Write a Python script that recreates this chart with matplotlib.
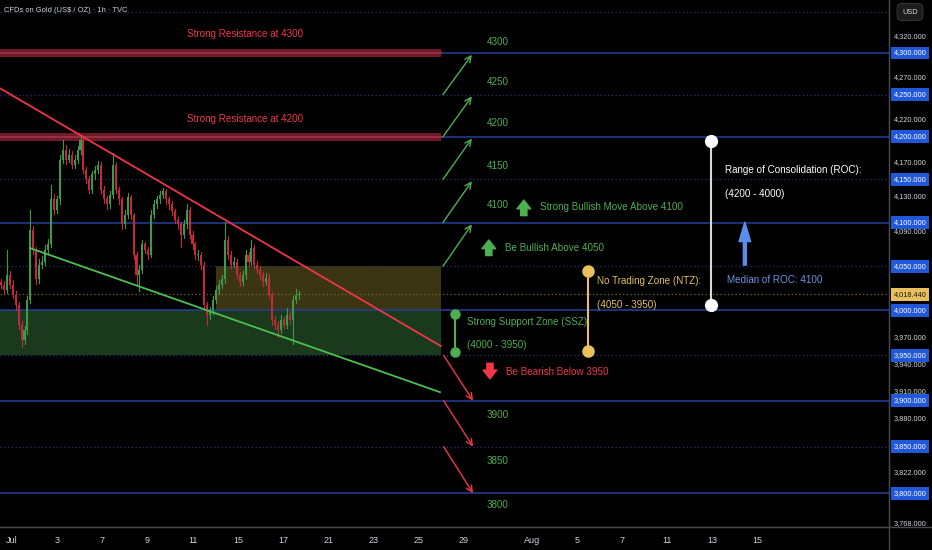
import matplotlib
matplotlib.use("Agg")
import matplotlib.pyplot as plt
import matplotlib.transforms as mtransforms
from matplotlib.lines import Line2D
from matplotlib.patches import Rectangle
from matplotlib.ticker import NullLocator

plt.rcParams['font.family'] = ['Liberation Sans', 'DejaVu Sans']

# 3h candles, Jul 1 - Jul 18
closes = [4029, 4023, 4040, 4029, 4018, 4006, 3984, 3967, 3978, 4012,
          4092, 4069, 4035, 4052, 4055, 4069, 4075, 4127, 4115, 4127,
          4173, 4185, 4173, 4179, 4167, 4173, 4185, 4196, 4161, 4150,
          4138, 4156, 4161, 4167, 4138, 4127, 4121, 4132, 4167, 4138,
          4127, 4098, 4109, 4129, 4109, 4063, 4040, 4046, 4075, 4069,
          4063, 4109, 4121, 4127, 4132, 4136, 4127, 4121, 4113, 4103,
          4098, 4086, 4098, 4115, 4086, 4075, 4063, 4063, 4052, 4006,
          3995, 4000, 4012, 4023, 4029, 4035, 4080, 4063, 4052, 4055,
          4040, 4032, 4040, 4063, 4055, 4071, 4052, 4046, 4040, 4032,
          4037, 4018, 3989, 3984, 3978, 3989, 3984, 3995, 3989, 4012,
          4018, 4018.44]
highs = [4036, 4033, 4069, 4045, 4034, 4022, 4010, 3988, 3983, 4016,
         4115, 4096, 4072, 4058, 4062, 4074, 4081, 4144, 4133, 4131,
         4178, 4196, 4190, 4186, 4183, 4178, 4189, 4202, 4199, 4165,
         4154, 4160, 4166, 4172, 4170, 4142, 4131, 4137, 4181, 4170,
         4141, 4130, 4114, 4134, 4132, 4111, 4066, 4052, 4080, 4078,
         4072, 4114, 4126, 4131, 4137, 4140, 4139, 4130, 4125, 4116,
         4107, 4101, 4103, 4121, 4118, 4090, 4078, 4068, 4066, 4055,
         4010, 4004, 4016, 4028, 4034, 4040, 4101, 4084, 4067, 4060,
         4058, 4044, 4045, 4068, 4066, 4080, 4074, 4056, 4050, 4044,
         4042, 4041, 4021, 3994, 3988, 3995, 3993, 4003, 3999, 4016,
         4024, 4022]
lows = [4025, 4019, 4020, 4025, 4014, 4001, 3979, 3959, 3963, 3974,
        4008, 4064, 4030, 4031, 4048, 4051, 4064, 4072, 4110, 4111,
        4122, 4169, 4168, 4170, 4163, 4163, 4169, 4180, 4157, 4146,
        4134, 4134, 4151, 4157, 4134, 4123, 4116, 4117, 4128, 4134,
        4122, 4093, 4094, 4105, 4104, 4058, 4030, 4022, 4042, 4065,
        4058, 4060, 4105, 4117, 4123, 4128, 4122, 4116, 4109, 4099,
        4093, 4072, 4082, 4094, 4082, 4070, 4058, 4057, 4047, 4001,
        3984, 3990, 3996, 4008, 4019, 4025, 4031, 4058, 4048, 4049,
        4036, 4028, 4029, 4036, 4050, 4051, 4048, 4042, 4036, 4028,
        4029, 4014, 3984, 3979, 3970, 3975, 3980, 3980, 3985, 3962,
        4008, 4013]
first_open = 4032
opens = [first_open] + closes[:-1]

day_ticks = [0, 2, 4, 6, 8, 10, 12, 14, 16, 18, 20, 23, 25, 27, 29, 31, 33]
day_labels = ['Jul', '3', '7', '9', '11', '15', '17', '21', '23', '25', '29',
              'Aug', '5', '7', '11', '13', '15']

solid_levels = [4300, 4200, 4100, 4000, 3900, 3800]
dotted_levels = [4350, 4250, 4150, 4050, 3950, 3850]
resistance = [4300, 4200]
axis_plain = [4320, 4270, 4220, 4170, 4130, 4090, 3970, 3940, 3910, 3880, 3822, 3768]
axis_boxed = [4300, 4250, 4200, 4150, 4100, 4050, 4000, 3950, 3900, 3850, 3800]
last_price = 4018.44
up_steps = [(4050, 4100), (4100, 4150), (4150, 4200), (4200, 4250), (4250, 4300)]
down_steps = [(3950, 3900), (3900, 3850), (3850, 3800)]

bg = '#000000'
green = '#4caf50'
red = '#f23645'
gold = '#e9c05b'
navy = '#22409a'
navy_dot = '#1f3470'
label_col = '#d1d4dc'
fs = 7.1

fig = plt.figure(figsize=(9.32, 5.5), dpi=100, facecolor=bg)
ax = fig.add_axes([0, 23 / 550, 889 / 932, 527 / 550])
ax.set_facecolor(bg)
ax.set_yscale('log')
ax.set_xlim(-0.531, 38.81)
ax.set_ylim(3764, 4364.5)
ax.yaxis.set_major_locator(NullLocator())
ax.yaxis.set_minor_locator(NullLocator())
for s in ['top', 'left']:
    ax.spines[s].set_visible(False)
ax.spines['right'].set_color('#4a4a4a')
ax.spines['bottom'].set_color('#4a4a4a')
ax.set_xticks(day_ticks)
ax.set_xticklabels(day_labels)
ax.tick_params(axis='x', length=0, colors=label_col, labelsize=6.5, pad=6.5)
ax.tick_params(axis='y', length=0)

zone_end = 18.98

# zones
ax.add_patch(Rectangle((-0.531, 3950), zone_end + 0.531, 50, color='#1b3a1d', lw=0, zorder=1))
ax.add_patch(Rectangle((9.03, 4000), zone_end - 9.03, 50, color='#3c3514', lw=0, zorder=1))

# levels
for lv in solid_levels:
    ax.axhline(lv, color=navy, lw=1.1, zorder=2)
for lv in dotted_levels:
    ax.axhline(lv, color=navy_dot, lw=0.9, ls=(0, (1, 2)), zorder=2)
ax.axhline(last_price, color='#7c6228', lw=0.9, ls=(0, (1, 2)), zorder=2)

for lv in resistance:
    ax.add_patch(Rectangle((-0.531, lv - 4.5), zone_end + 0.531, 9, color='#6e1a27', lw=0, zorder=3))
    ax.plot([-0.531, zone_end], [lv, lv], color='#a0344a', lw=1.2, zorder=3)

# candles
xs = [-0.49 + i * (3 / 23) for i in range(len(closes))]
w = 3 / 23 * 0.7
for x, o, h, l, c in zip(xs, opens, highs, lows, closes):
    col = '#3d9a46' if c >= o else '#c4283a'
    ax.plot([x, x], [l, h], color=col, lw=0.8, zorder=4)
    ax.bar(x, c - o if c != o else 0.8, bottom=o, width=w, color=col, lw=0, zorder=4)

# trend lines
ax.plot([-0.531, 18.98], [4257.6, 3960.2], color='#f0354a', lw=1.3, zorder=5)
ax.plot([0.80, 18.94], [4070.7, 3909.3], color='#4cc04f', lw=1.3, zorder=5)

# resistance captions
ax.text(10.31, 4323, 'Strong Resistance at 4300', color=red, fontsize=fs, ha='center', va='center')
ax.text(10.31, 4221, 'Strong Resistance at 4200', color=red, fontsize=fs, ha='center', va='center')

# target arrows
for a, b in up_steps:
    ax.annotate('', xy=(20.35, b * 0.9995), xytext=(19.07, a),
                arrowprops=dict(arrowstyle='->', color=green, lw=1.0, mutation_scale=11,
                                shrinkA=0, shrinkB=0), zorder=5)
for a, b in down_steps:
    ax.annotate('', xy=(20.4, b), xytext=(19.1, a),
                arrowprops=dict(arrowstyle='->', color=red, lw=1.0, mutation_scale=11,
                                shrinkA=0, shrinkB=0), zorder=5)

for txt, yy in [('4300', 4313), ('4250', 4265), ('4200', 4216), ('4150', 4166), ('4100', 4120),
                ('3900', 3884), ('3850', 3834), ('3800', 3787)]:
    ax.text(21.5, yy, txt, color=green, fontsize=fs, ha='center', va='center')


def block_arrow(x, y, col, up=True):
    dy = 7 if up else -7
    ax.annotate('', xy=(x, y), xycoords='data', xytext=(0, -dy * 1.6), textcoords='offset points',
                arrowprops=dict(arrowstyle='simple,head_length=0.7,head_width=1.1,tail_width=0.5',
                                color=col, mutation_scale=9, shrinkA=0, shrinkB=0), zorder=6)


block_arrow(22.65, 4126, green)
ax.text(23.36, 4118, 'Strong Bullish Move Above 4100', color=green, fontsize=fs, va='center')
block_arrow(21.1, 4080, green)
ax.text(21.81, 4071, 'Be Bullish Above 4050', color=green, fontsize=fs, va='center')
block_arrow(21.15, 3924, red, up=False)
ax.text(21.86, 3932, 'Be Bearish Below 3950', color=red, fontsize=fs, va='center')

# SSZ
ax.plot([19.6, 19.6], [3996, 3954], color=green, lw=1.5, marker='o', ms=6.5, zorder=6)
ax.text(20.13, 3987, 'Strong Support Zone (SSZ):', color=green, fontsize=fs, va='center')
ax.text(20.13, 3961, '(4000 - 3950)', color=green, fontsize=fs, va='center')

# NTZ
ax.plot([25.49, 25.49], [4044.5, 3954.6], color=gold, lw=1.5, marker='o', ms=8, zorder=6)
ax.text(25.88, 4033, 'No Trading Zone (NTZ):', color=gold, fontsize=fs, va='center')
ax.text(25.88, 4006, '(4050 - 3950)', color=gold, fontsize=fs, va='center')

# ROC
ax.plot([30.93, 30.93], [4195, 4006], color='#d8d8d8', lw=1.5, marker='o', ms=8.5,
        mfc='white', mec='white', zorder=6)
ax.text(31.55, 4161, 'Range of Consolidation (ROC):', color='white', fontsize=fs, va='center')
ax.text(31.55, 4133, '(4200 - 4000)', color='white', fontsize=fs, va='center')
ax.annotate('', xy=(32.43, 4100.5), xytext=(32.43, 4051.3),
            arrowprops=dict(arrowstyle='simple,head_length=1.0,head_width=0.6,tail_width=0.15',
                            color='#5b8def', mutation_scale=14, shrinkA=0, shrinkB=0), zorder=6)
ax.text(31.64, 4034, 'Median of ROC: 4100', color='#6f93e0', fontsize=fs, va='center')

# header
ax.text(4 / 889, 1 - 11 / 527, 'CFDs on Gold (US$ / OZ) · 1h · TVC', transform=ax.transAxes,
        color=label_col, fontsize=5.4, va='center', ha='left')

# price scale
tr = mtransforms.blended_transform_factory(ax.transAxes, ax.transData)
xr = 1 + 21 / 889
for p in axis_plain:
    ax.text(xr, p, f'{p:,.3f}', transform=tr, color=label_col, fontsize=5.3, ha='center',
            va='center', clip_on=False, zorder=7)
for p in axis_boxed:
    ax.text(xr, p, f'{p:,.3f}', transform=tr, color='white', fontsize=5.3, ha='center',
            va='center', clip_on=False, zorder=8,
            bbox=dict(boxstyle='square,pad=0.4', fc='#2157d9', ec='none'))
ax.text(xr, last_price, f'{last_price:,.3f}', transform=tr, color='#1a1a1a', fontsize=5.3,
        ha='center', va='center', clip_on=False, zorder=9,
        bbox=dict(boxstyle='square,pad=0.4', fc=gold, ec='none'))
ax.text(1 + 21 / 889, 1 - 12 / 527, 'USD', transform=ax.transAxes, color=label_col, fontsize=5.3,
        ha='center', va='center', clip_on=False,
        bbox=dict(boxstyle='round,pad=0.7', fc='#1c1c1c', ec='#3a3a3a', lw=0.6))

fig.add_artist(Line2D([0, 1], [23 / 550, 23 / 550], color='#4a4a4a', lw=1, transform=fig.transFigure))
fig.add_artist(Line2D([889 / 932, 889 / 932], [0, 1], color='#4a4a4a', lw=1, transform=fig.transFigure))

fig.savefig('out.png', dpi=100, facecolor=bg)
